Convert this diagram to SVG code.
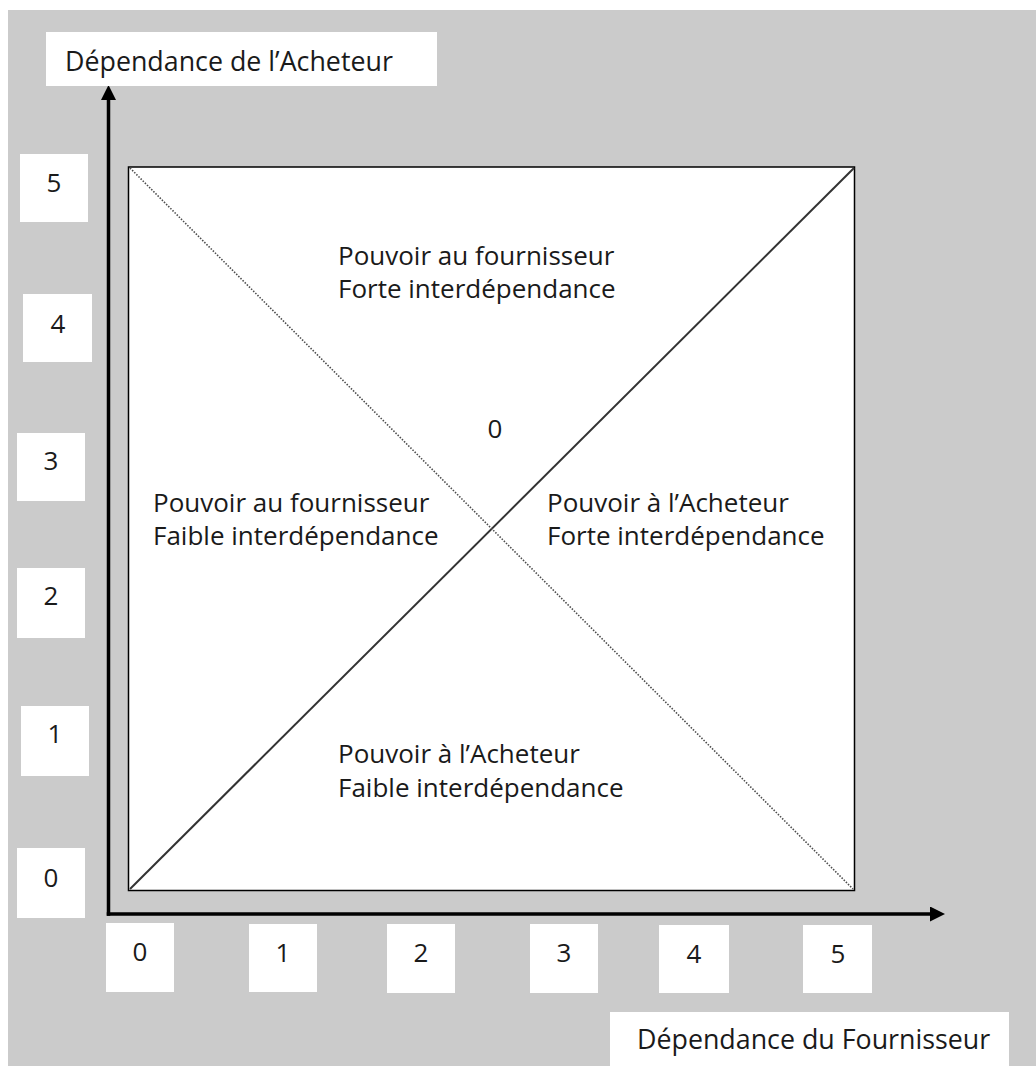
<svg xmlns="http://www.w3.org/2000/svg" width="1036" height="1066" viewBox="0 0 1036 1066">
  <style>
    .lbl { font-family: "Open Sans", "Liberation Sans", sans-serif; font-size: 26px; fill: #1a1a1a; }
    .ttl { font-family: "Open Sans", "Liberation Sans", sans-serif; font-size: 26.8px; fill: #1a1a1a; }
    .num { font-family: "Open Sans", "Liberation Sans", sans-serif; font-size: 26px; fill: #1a1a1a; text-anchor: middle; }
    .box { fill: #ffffff; }
    .axis { stroke: #000000; stroke-width: 3.5; fill: none; }
  </style>
  <defs>
    <marker id="arrow" markerUnits="userSpaceOnUse" markerWidth="16" markerHeight="16" refX="0" refY="7.5" orient="auto">
      <path d="M0,0 L15,7.5 L0,15 Z" fill="#000000"/>
    </marker>
  </defs>

  <!-- page background -->
  <rect x="0" y="0" width="1036" height="1066" fill="#ffffff"/>
  <rect x="8" y="10" width="1028" height="1056" fill="#cbcbcb"/>

  <!-- power matrix square -->
  <g id="matrix">
    <rect x="128.5" y="167" width="726" height="723.5" fill="#ffffff" stroke="#000000" stroke-width="1.5"/>
    <line x1="130" y1="889" x2="854" y2="168" stroke="#333333" stroke-width="2"/>
    <line x1="130" y1="168" x2="853" y2="889" stroke="#4d4d4d" stroke-width="1.6" stroke-dasharray="1.5,1.5"/>
  </g>

  <!-- axes -->
  <g id="connectors">
    <line class="axis" x1="108.5" y1="915.75" x2="108.5" y2="100" marker-end="url(#arrow)"/>
    <line class="axis" x1="106.75" y1="914" x2="930" y2="914" marker-end="url(#arrow)"/>
  </g>

  <!-- axis titles -->
  <g id="title-y">
    <rect class="box" x="46" y="32" width="391" height="54"/>
    <text class="ttl" x="65" y="71">Dépendance de l’Acheteur</text>
  </g>
  <g id="title-x">
    <rect class="box" x="610" y="1012" width="399" height="54"/>
    <text class="ttl" x="637" y="1049">Dépendance du Fournisseur</text>
  </g>

  <!-- vertical scale -->
  <g id="y5"><rect class="box" x="20" y="154" width="68" height="68"/><text class="num" x="54" y="192">5</text></g>
  <g id="y4"><rect class="box" x="23" y="294" width="69" height="68"/><text class="num" x="58" y="333">4</text></g>
  <g id="y3"><rect class="box" x="17" y="433" width="68" height="68"/><text class="num" x="51" y="470">3</text></g>
  <g id="y2"><rect class="box" x="17" y="568" width="68" height="70"/><text class="num" x="51" y="605">2</text></g>
  <g id="y1"><rect class="box" x="21" y="706" width="68" height="70"/><text class="num" x="55" y="743">1</text></g>
  <g id="y0"><rect class="box" x="17" y="848" width="68" height="70"/><text class="num" x="51" y="887">0</text></g>

  <!-- horizontal scale -->
  <g id="x0"><rect class="box" x="106" y="923" width="68" height="69"/><text class="num" x="140" y="961">0</text></g>
  <g id="x1"><rect class="box" x="249" y="924" width="68" height="68"/><text class="num" x="283" y="962">1</text></g>
  <g id="x2"><rect class="box" x="387" y="924" width="68" height="69"/><text class="num" x="421" y="962">2</text></g>
  <g id="x3"><rect class="box" x="530" y="924" width="68" height="69"/><text class="num" x="564" y="962">3</text></g>
  <g id="x4"><rect class="box" x="659" y="925" width="70" height="68"/><text class="num" x="694" y="963">4</text></g>
  <g id="x5"><rect class="box" x="803" y="925" width="69" height="68"/><text class="num" x="838" y="963">5</text></g>

  <!-- quadrant labels -->
  <g id="zone-top">
    <text class="lbl" x="338" y="265">Pouvoir au fournisseur</text>
    <text class="lbl" x="338" y="298">Forte interdépendance</text>
  </g>
  <g id="zone-center">
    <text class="num" x="495" y="438">0</text>
  </g>
  <g id="zone-left">
    <text class="lbl" x="153" y="512">Pouvoir au fournisseur</text>
    <text class="lbl" x="153" y="545">Faible interdépendance</text>
  </g>
  <g id="zone-right">
    <text class="lbl" x="547" y="512">Pouvoir à l’Acheteur</text>
    <text class="lbl" x="547" y="545">Forte interdépendance</text>
  </g>
  <g id="zone-bottom">
    <text class="lbl" x="338" y="763">Pouvoir à l’Acheteur</text>
    <text class="lbl" x="338" y="797">Faible interdépendance</text>
  </g>
</svg>
